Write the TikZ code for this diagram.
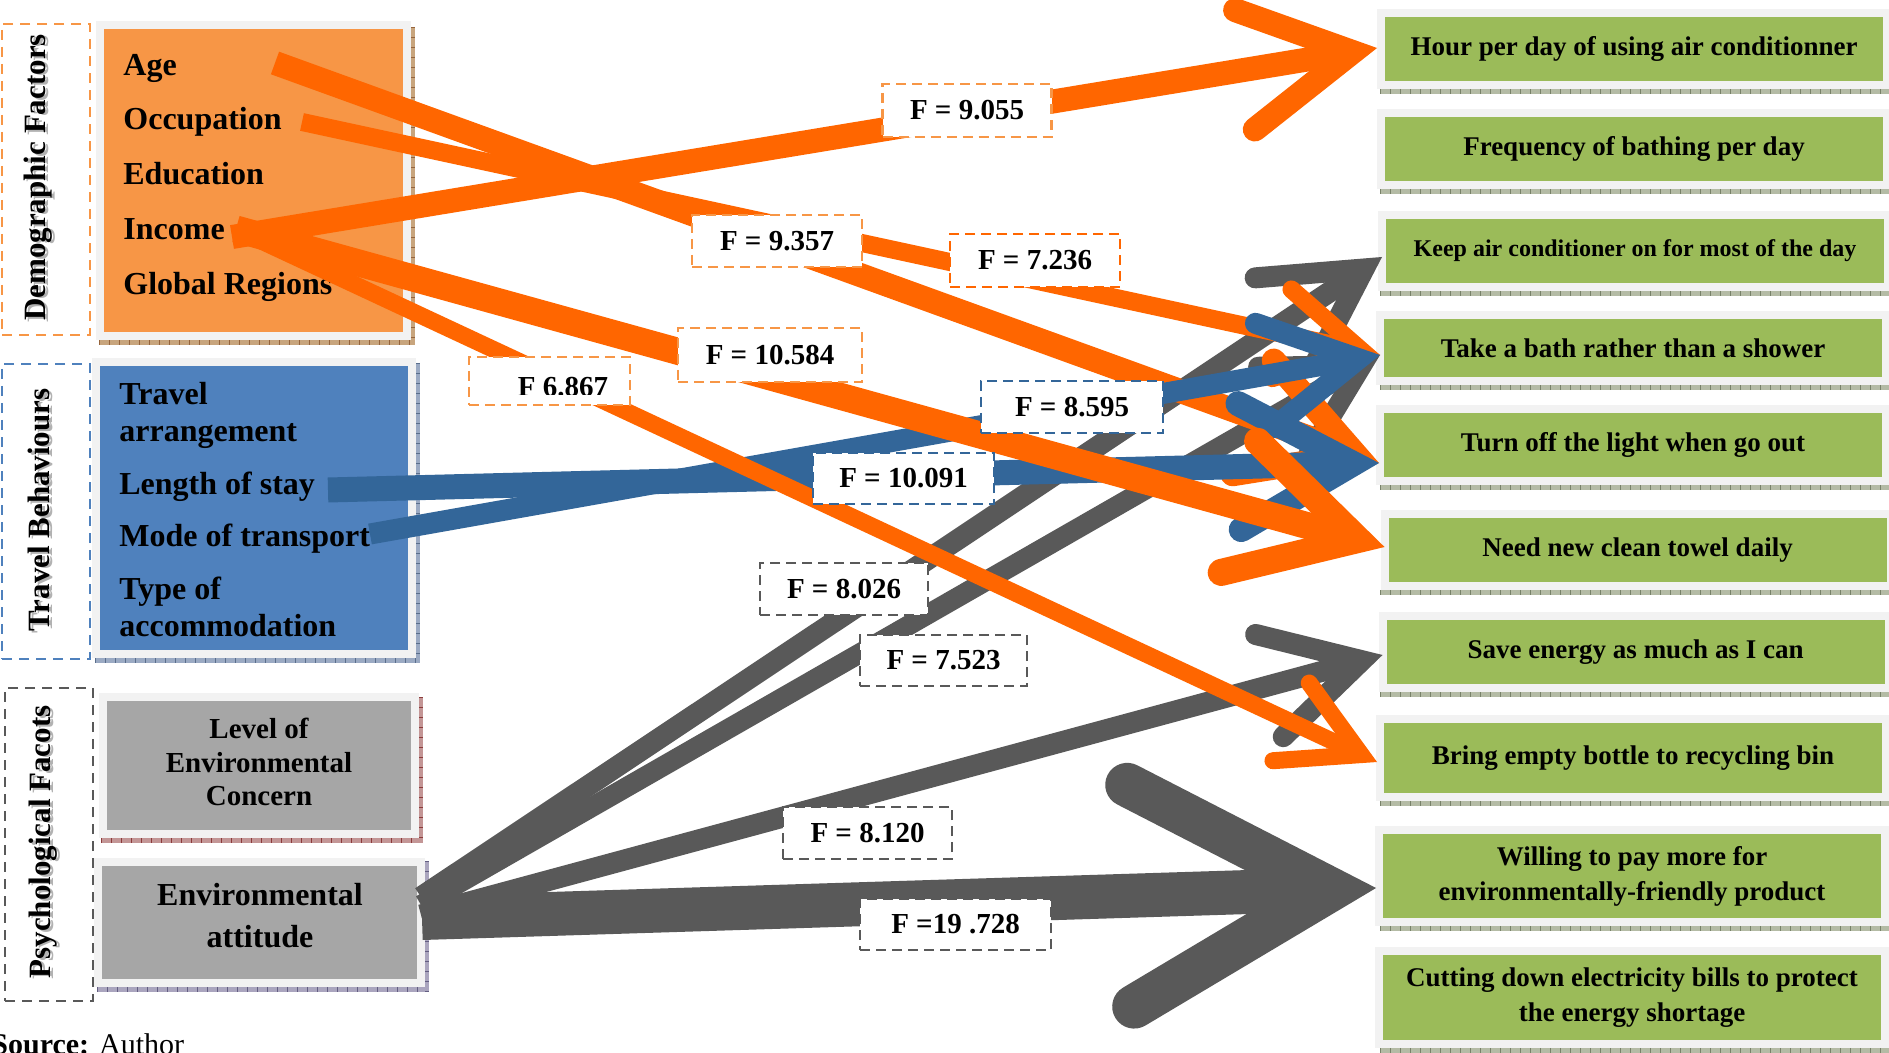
\documentclass[tikz,border=0pt]{standalone}
\usepackage{fontspec}
\setmainfont{Liberation Serif}
\usetikzlibrary{calc}

% palette
\definecolor{arrOrange}{HTML}{FF6600}
\definecolor{arrBlue}{RGB}{51,102,153}
\definecolor{arrGray}{HTML}{595959}
\definecolor{boxOrange}{HTML}{F79646}
\definecolor{boxBlue}{HTML}{4F81BD}
\definecolor{boxGray}{HTML}{A6A6A6}
\definecolor{boxGreen}{HTML}{9BBB59}
\definecolor{frameGray}{HTML}{F2F2F2}
\definecolor{stripOrange}{RGB}{200,165,125}
\definecolor{tickOrange}{RGB}{150,100,60}
\definecolor{stripBlue}{RGB}{155,170,195}
\definecolor{tickBlue}{RGB}{90,110,140}
\definecolor{stripRed}{RGB}{195,150,150}
\definecolor{tickRed}{RGB}{140,60,60}
\definecolor{stripPurple}{RGB}{170,165,190}
\definecolor{tickPurple}{RGB}{100,95,130}
\definecolor{stripGreen}{RGB}{180,187,165}
\definecolor{tickGreen}{RGB}{120,130,105}

% fonts
\newcommand{\fItem}{\fontsize{16}{19}\selectfont\bfseries}
\newcommand{\fResult}{\fontsize{13.5}{17.5}\selectfont\bfseries}
\newcommand{\fResultSmall}{\fontsize{12}{15}\selectfont\bfseries}
\newcommand{\fLabel}{\fontsize{14.5}{17}\selectfont\bfseries}
\newcommand{\fTitle}{\fontsize{15.5}{18}\selectfont\bfseries}

% thick arrow with an open V head: colour, width (pt), start, tip
\newcommand{\flowarrow}[4]{%
  \pgfmathsetmacro{\arrowback}{1.03*#2}%
  \pgfmathsetmacro{\arrowbarb}{5.2*#2}%
  \coordinate (vtx) at ($(#4)!\arrowback pt!(#3)$);
  \draw[#1, line width=#2pt] (#3) -- (vtx);
  \draw[#1, line width=#2pt, line cap=round, line join=miter]
    ($(vtx)!\arrowbarb pt!29:(#3)$) -- (vtx) -- ($(vtx)!\arrowbarb pt!-29:(#3)$);
}

% textured shadow strips under and beside the boxes
\newcommand{\hstrip}[5]{% fill, tick, x1, x2, y
  \fill[#1] (#3,#5) rectangle (#4,#5+5);
  \draw[#2, line width=2.5pt, dash pattern=on 0.5pt off 4.5pt] (#3,#5+2.5) -- (#4,#5+2.5);
}
\newcommand{\vstrip}[5]{% fill, tick, x, y1, y2
  \fill[#1] (#3,#4) rectangle (#3+4,#5);
  \draw[#2, line width=2pt, dash pattern=on 0.5pt off 4.5pt] (#3+2,#4) -- (#3+2,#5);
}

\begin{document}
\begin{tikzpicture}[x=0.5pt,y=-0.5pt,
  catbox/.style={draw=frameGray, line width=4pt, inner sep=0pt},
  resbox/.style={catbox, fill=boxGreen, minimum width=253pt, align=center, font=\fResult},
  item/.style={font=\fItem, anchor=base west, inner sep=0pt},
  flabel/.style={fill=white, line width=1.2pt, dash pattern=on 5pt off 3pt, inner sep=0pt, font=\fLabel},
  groupframe/.style={line width=1.3pt, dash pattern=on 5pt off 3.5pt, inner sep=0pt},
  grouptitle/.style={rotate=90, font=\fTitle, inner sep=0pt},
]
\useasboundingbox (0,0) rectangle (1889,1053);
\fill[white] (0,0) rectangle (1889,1053);

% ---------- group frames and titles ----------
\node[groupframe, draw=boxOrange, minimum width=44pt, minimum height=155.5pt] (demoframe) at (46,179.5) {};
\node[groupframe, draw=boxBlue, minimum width=44pt, minimum height=147.5pt] (travframe) at (46,511.5) {};
\node[groupframe, draw=arrGray, minimum width=44pt, minimum height=156.5pt] (psyframe) at (49,844.5) {};

\node[grouptitle, text=black!30] (demoshade) at (41,179) {Demographic Factors};
\node[grouptitle] (demotitle) at (38,177.5) {Demographic Factors};
\node[grouptitle, text=black!30] (travshade) at (42,511.5) {Travel Behaviours};
\node[grouptitle] (travtitle) at (39,510) {Travel Behaviours};
\node[grouptitle, text=black!30] (psyshade) at (46,843.5) {Psychological Facots};
\node[grouptitle] (psytitle) at (43,842) {Psychological Facots};

% ---------- independent variables ----------
\hstrip{stripOrange}{tickOrange}{99}{415}{340}
\vstrip{stripOrange}{tickOrange}{411}{27}{345}
\node[catbox, fill=boxOrange, minimum width=153.5pt, minimum height=155.5pt] (demobox) at (253.5,180.5) {};
\node[item] (age) at (123,76) {Age};
\node[item] (occupation) at (123,130) {Occupation};
\node[item] (education) at (123,185) {Education};
\node[item] (income) at (123,240) {Income};
\node[item] (regions) at (123,295) {Global Regions};

\hstrip{stripBlue}{tickBlue}{95}{420}{658}
\vstrip{stripBlue}{tickBlue}{416}{363}{663}
\node[catbox, fill=boxBlue, minimum width=158pt, minimum height=146pt] (travbox) at (254,508) {};
\node[item] (travA) at (119,405) {Travel};
\node[item] (travB) at (119,441) {arrangement};
\node[item] (lenstay) at (119,494) {Length of stay};
\node[item] (mode) at (119,546) {Mode of transport};
\node[item] (typeA) at (119,599) {Type of};
\node[item] (typeB) at (119,636) {accommodation};

\hstrip{stripRed}{tickRed}{101}{423}{838}
\vstrip{stripRed}{tickRed}{419}{697}{843}
\node[catbox, fill=boxGray, minimum width=156pt, minimum height=68.5pt] (concern) at (259,765.5) {};
\node[font=\fontsize{14.5}{16.75}\selectfont\bfseries, align=center, inner sep=0pt] (concerntext) at (259,762) {Level of\\Environmental\\Concern};

\hstrip{stripPurple}{tickPurple}{97}{429}{987}
\vstrip{stripPurple}{tickPurple}{425}{861}{992}
\node[catbox, fill=boxGray, minimum width=161.5pt, minimum height=60.5pt] (attitude) at (259.5,922.5) {};
\node[font=\fontsize{16}{21}\selectfont\bfseries, align=center, inner sep=0pt] (attitudetext) at (260,916) {Environmental\\attitude};

% ---------- dependent variables ----------
\foreach \y in {89,189,291,385,485,590,692,801,926,1048}{
  \hstrip{stripGreen}{tickGreen}{1380}{1889}{\y}
}
\node[resbox, minimum height=36pt] (hour) at (1634,49) {Hour per day of using air conditionner};
\node[resbox, minimum height=36pt] (bathing) at (1634,149) {Frequency of bathing per day};
\node[resbox, minimum height=36pt, font=\fResultSmall] (keep) at (1635,251) {Keep air conditioner on for most of the day};
\node[resbox, minimum height=33pt] (bath) at (1633,348) {Take a bath rather than a shower};
\node[resbox, minimum height=36pt] (light) at (1633,445) {Turn off the light when go out};
\node[resbox, minimum height=36pt] (towel) at (1637.5,550) {Need new clean towel daily};
\node[resbox, minimum height=36pt] (save) at (1635.5,652) {Save energy as much as I can};
\node[resbox, minimum height=39pt] (bottle) at (1633,758) {Bring empty bottle to recycling bin};
\node[resbox, minimum height=46pt] (willing) at (1632,876) {Willing to pay more for\\environmentally-friendly product};
\node[resbox, minimum height=46.5pt] (cutting) at (1632,997.5) {Cutting down electricity bills to protect\\the energy shortage};

% ---------- arrow ends ----------
\coordinate (sAge) at (275,63);
\coordinate (sOcc) at (302,122);
\coordinate (sIncA) at (232,237);
\coordinate (sIncB) at (236,229);
\coordinate (sIncC) at (242,232);
\coordinate (sLen) at (328,490);
\coordinate (sMode) at (370,534);
\coordinate (sEnvA) at (421,897);
\coordinate (sEnvB) at (421,905);
\coordinate (sEnvC) at (421,915);
\coordinate (sEnvD) at (422,918);

\coordinate (tHour) at ($(hour.west)+(0,-1)$);
\coordinate (tKeep) at ($(keep.west)+(4,6)$);
\coordinate (tBath) at ($(bath.west)+(4,7)$);
\coordinate (tLight) at ($(light.west)+(3,18)$);
\coordinate (tTowel) at ($(towel.west)+(4,-3)$);
\coordinate (tSave) at ($(save.west)+(4,3)$);
\coordinate (tBottle) at ($(bottle.west)+(1,4)$);
\coordinate (tWill) at ($(willing.west)+(1,12)$);

% ---------- arrows ----------
\flowarrow{arrGray}{10.5}{sEnvA}{tKeep}
\flowarrow{arrGray}{10}{sEnvB}{tBath}
\flowarrow{arrGray}{10.5}{sEnvC}{tSave}
\flowarrow{arrGray}{22}{sEnvD}{tWill}

\flowarrow{arrOrange}{12}{sAge}{tLight}
\flowarrow{arrOrange}{9}{sOcc}{tBath}
\flowarrow{arrOrange}{12}{sIncA}{tHour}

\flowarrow{arrBlue}{10.5}{sMode}{tBath}
\flowarrow{arrBlue}{12.5}{sLen}{tLight}

\flowarrow{arrOrange}{13.5}{sIncB}{tTowel}
\flowarrow{arrOrange}{8.5}{sIncC}{tBottle}

% ---------- F values ----------
\node[flabel, draw=boxOrange, minimum width=84.5pt, minimum height=26.5pt] (f9055) at (967,110.5) {F = 9.055};
\node[flabel, draw=boxOrange, minimum width=85pt, minimum height=26pt] (f9357) at (777,241) {F = 9.357};
\node[flabel, draw=arrOrange, minimum width=85pt, minimum height=26.5pt] (f7236) at (1035,260.5) {F = 7.236};
\node[flabel, draw=boxOrange, minimum width=92pt, minimum height=27pt] (f10584) at (770,355) {F = 10.584};
\node[flabel, draw=boxOrange, minimum width=80.5pt, minimum height=24pt] (f6867) at (549.5,381) {};
\begin{scope}
  \clip (470,358) rectangle (629,395);
  \node[font=\fLabel, anchor=base, inner sep=0pt] (f6867text) at (563,397) {F 6.867};
\end{scope}
\node[flabel, draw=arrBlue, minimum width=91pt, minimum height=26pt] (f8595) at (1072,407) {F = 8.595};
\node[flabel, draw=arrBlue, minimum width=90.5pt, minimum height=25.5pt] (f10091) at (903.5,478.5) {F = 10.091};
\node[flabel, draw=arrGray, minimum width=84pt, minimum height=26pt] (f8026) at (844,589) {F = 8.026};
\node[flabel, draw=arrGray, minimum width=83.5pt, minimum height=25.5pt] (f7523) at (943.5,660.5) {F = 7.523};
\node[flabel, draw=arrGray, minimum width=84.5pt, minimum height=26pt] (f8120) at (867.5,833) {F = 8.120};
\node[flabel, draw=arrGray, minimum width=95.5pt, minimum height=25.5pt] (f19728) at (955.5,924.5) {F =19 .728};

% ---------- source line ----------
\node[font=\fontsize{15}{18}\selectfont, anchor=base west, inner sep=0pt] (source) at (-9,1054) {\textbf{Source:} Author};
\end{tikzpicture}
\end{document}
